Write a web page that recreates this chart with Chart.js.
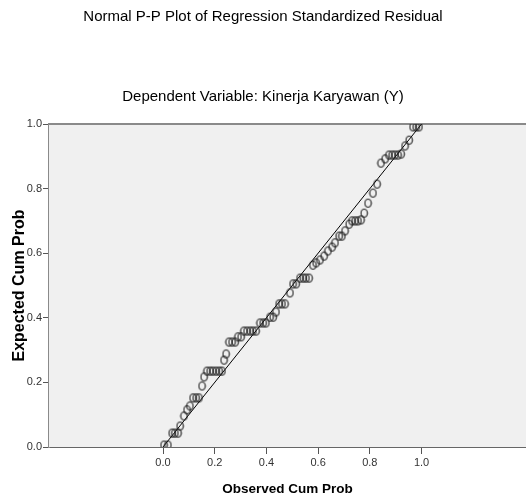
<!DOCTYPE html>
<html>
<head>
<meta charset="utf-8">
<title>Normal P-P Plot</title>
<script src="https://cdn.jsdelivr.net/npm/chart.js@4.4.1/dist/chart.umd.min.js"></script>
<style>
  body { margin: 0; background: #fff; }
  #wrap { width: 526px; height: 499px; }
</style>
</head>
<body>
<div id="wrap"><canvas id="ppChart" width="526" height="499"></canvas></div>
<script>
// observed cumulative probability (x) and expected cumulative probability (y)
const observedCum = [
  0.004, 0.019, 0.035, 0.046, 0.058, 0.066, 0.081, 0.093, 0.104, 0.116,
  0.128, 0.139, 0.151, 0.159, 0.170, 0.182, 0.193, 0.205, 0.217, 0.228,
  0.236, 0.244, 0.255, 0.267, 0.279, 0.290, 0.302, 0.313, 0.325, 0.337,
  0.348, 0.360, 0.375, 0.387, 0.398, 0.414, 0.426, 0.437, 0.449, 0.460,
  0.472, 0.491, 0.503, 0.515, 0.530, 0.542, 0.553, 0.565, 0.580, 0.592,
  0.607, 0.623, 0.638, 0.654, 0.665, 0.681, 0.692, 0.704, 0.720, 0.731,
  0.743, 0.754, 0.766, 0.778, 0.793, 0.812, 0.828, 0.843, 0.859, 0.874,
  0.886, 0.897, 0.909, 0.921, 0.936, 0.952, 0.967, 0.979, 0.990
];
const expectedCum = [
  0.006, 0.006, 0.043, 0.043, 0.043, 0.065, 0.096, 0.115, 0.127, 0.152,
  0.152, 0.152, 0.189, 0.217, 0.235, 0.235, 0.235, 0.235, 0.235, 0.235,
  0.269, 0.288, 0.325, 0.325, 0.325, 0.341, 0.341, 0.359, 0.359, 0.359,
  0.359, 0.359, 0.384, 0.384, 0.384, 0.402, 0.402, 0.418, 0.443, 0.443,
  0.443, 0.477, 0.505, 0.505, 0.523, 0.523, 0.523, 0.523, 0.563, 0.570,
  0.579, 0.591, 0.607, 0.619, 0.632, 0.653, 0.653, 0.669, 0.690, 0.700,
  0.700, 0.700, 0.703, 0.724, 0.755, 0.786, 0.814, 0.879, 0.892, 0.904,
  0.904, 0.904, 0.904, 0.907, 0.932, 0.950, 0.991, 0.991, 0.991
];
// reference diagonal
const diagX = [0, 1];
const diagY = [0, 1];

const xTicks = [0, 0.2, 0.4, 0.6, 0.8, 1.0];
const yTicks = [0, 0.2, 0.4, 0.6, 0.8, 1.0];

// SPSS style hollow oval marker
function ovalMarker() {
  const c = document.createElement("canvas");
  c.width = 9;
  c.height = 11;
  const g = c.getContext("2d");
  g.strokeStyle = "#1e1e1e";
  g.lineWidth = 1.1;
  g.beginPath();
  g.ellipse(4.5, 5.5, 3.2, 4, 0, 0, Math.PI * 2);
  g.stroke();
  return c;
}

// grey plot background plus the top frame line
const plotFrame = {
  id: "plotFrame",
  beforeDatasetsDraw(chart) {
    const { ctx, chartArea: a } = chart;
    ctx.save();
    ctx.fillStyle = "#f0f0f0";
    ctx.fillRect(a.left, a.top, a.right - a.left, a.bottom - a.top);
    ctx.strokeStyle = "#8a8a8a";
    ctx.lineWidth = 2;
    ctx.beginPath();
    ctx.moveTo(a.left, a.top);
    ctx.lineTo(a.right, a.top);
    ctx.stroke();
    ctx.restore();
  }
};

const font = "'Liberation Sans', Arial, sans-serif";

new Chart(document.getElementById("ppChart"), {
  type: "scatter",
  data: {
    datasets: [
      {
        data: observedCum.map((x, i) => ({ x, y: expectedCum[i] })),
        pointStyle: ovalMarker(),
        pointRadius: 4,
        order: 1
      },
      {
        type: "line",
        data: diagX.map((x, i) => ({ x, y: diagY[i] })),
        borderColor: "#000",
        borderWidth: 1,
        pointRadius: 0,
        fill: false,
        order: 2
      }
    ]
  },
  plugins: [plotFrame],
  options: {
    responsive: false,
    animation: false,
    layout: { padding: 0, autoPadding: false },
    plugins: {
      legend: { display: false },
      tooltip: { enabled: false },
      title: {
        display: true,
        text: "Normal P-P Plot of Regression Standardized Residual",
        color: "#000",
        font: { family: font, size: 15, weight: "normal" },
        padding: { top: 8, bottom: 62 }
      },
      subtitle: {
        display: true,
        text: "Dependent Variable: Kinerja Karyawan (Y)",
        color: "#000",
        font: { family: font, size: 15, weight: "normal" },
        padding: { top: 0, bottom: 18 }
      }
    },
    scales: {
      x: {
        type: "linear",
        min: -0.441,
        max: 1.404,
        afterBuildTicks: s => { s.ticks = xTicks.map(v => ({ value: v })); },
        afterFit: s => {
          s.height = 52;
          s.paddingLeft = 0;
          s.paddingRight = 0;
        },
        ticks: {
          color: "#333",
          font: { family: font, size: 11 },
          padding: 2,
          callback: v => v.toFixed(1)
        },
        grid: { drawOnChartArea: false, tickLength: 7, color: "#555", lineWidth: 1 },
        border: { color: "#666", width: 2 },
        title: {
          display: true,
          text: "Observed Cum Prob",
          color: "#000",
          font: { family: font, size: 13.5, weight: "bold" },
          padding: { top: 0, bottom: 2 }
        }
      },
      y: {
        type: "linear",
        min: 0,
        max: 1,
        afterBuildTicks: s => { s.ticks = yTicks.map(v => ({ value: v })); },
        afterFit: s => { s.width = 49; },
        ticks: {
          color: "#333",
          font: { family: font, size: 11 },
          padding: 1,
          callback: v => v.toFixed(1)
        },
        grid: { drawOnChartArea: false, tickLength: 6, color: "#555", lineWidth: 1 },
        border: { color: "#8a8a8a", width: 2 },
        title: {
          display: true,
          text: "Expected Cum Prob",
          color: "#000",
          font: { family: font, size: 16, weight: "bold" },
          padding: { top: 10, bottom: 0 }
        }
      }
    }
  }
});
</script>
</body>
</html>
